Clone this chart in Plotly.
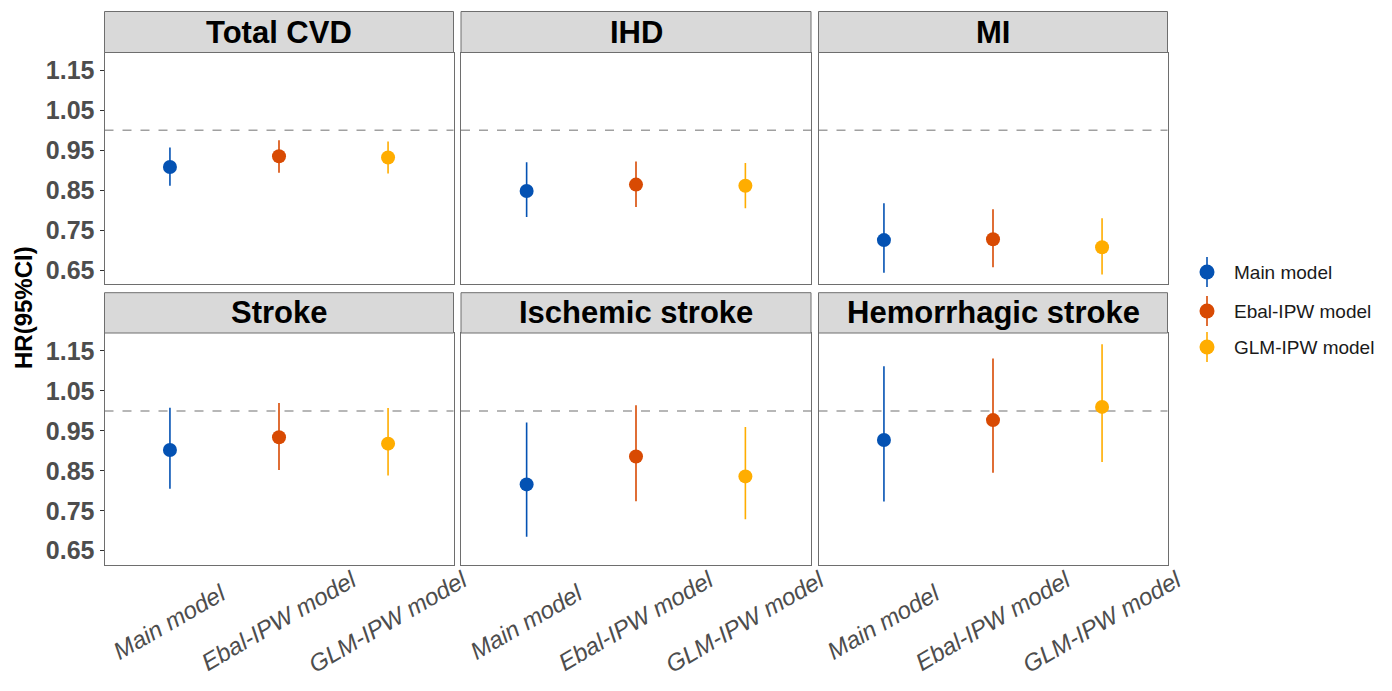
import plotly.graph_objects as go

# page body adds an 8px margin; figure is sized to fit inside the window
OFF = 8
W, H = 1392 - 2 * OFF, 691 - 2 * OFF

outcomes = ["Total CVD", "IHD", "MI", "Stroke", "Ischemic stroke", "Hemorrhagic stroke"]
models = ["Main model", "Ebal-IPW model", "GLM-IPW model"]
colors = ["#0452B3", "#D84A03", "#FFAD00"]

# HR point estimates per outcome (order: Main, Ebal-IPW, GLM-IPW)
hr = {
    "Total CVD":          [0.908, 0.935, 0.932],
    "IHD":                [0.848, 0.864, 0.861],
    "MI":                 [0.725, 0.727, 0.707],
    "Stroke":             [0.902, 0.934, 0.918],
    "Ischemic stroke":    [0.816, 0.886, 0.836],
    "Hemorrhagic stroke": [0.927, 0.977, 1.010],
}
lower = {
    "Total CVD":          [0.861, 0.894, 0.892],
    "IHD":                [0.783, 0.808, 0.805],
    "MI":                 [0.643, 0.657, 0.639],
    "Stroke":             [0.805, 0.852, 0.838],
    "Ischemic stroke":    [0.685, 0.774, 0.729],
    "Hemorrhagic stroke": [0.773, 0.845, 0.872],
}
upper = {
    "Total CVD":          [0.957, 0.975, 0.972],
    "IHD":                [0.920, 0.922, 0.918],
    "MI":                 [0.817, 0.802, 0.780],
    "Stroke":             [1.008, 1.020, 1.007],
    "Ischemic stroke":    [0.971, 1.014, 0.960],
    "Hemorrhagic stroke": [1.112, 1.131, 1.167],
}
y_ticks = [0.65, 0.75, 0.85, 0.95, 1.05, 1.15]
y_tick_labels = ["0.65", "0.75", "0.85", "0.95", "1.05", "1.15"]
ref_line = 1.0

# layout geometry in window pixels
col_px = [(104.5, 453.5), (461.0, 811.0), (818.5, 1167.5)]
row_plot_px = [(52.5, 284.0), (333.0, 564.7)]
row_strip_px = [(11.5, 52.5), (292.7, 333.0)]
xlabel_top_px = [576, 563, 563]

def px_x(p):
    return (p - OFF) / W

def px_y(p):
    return 1 - (p - OFF) / H

BORDER = "#6E6E6E"
FONT = "Liberation Sans, Arial"
fig = go.Figure()
shapes = []
annotations = []

for i, outc in enumerate(outcomes):
    r, c = divmod(i, 3)
    n = i + 1
    xa = "x" if n == 1 else f"x{n}"
    ya = "y" if n == 1 else f"y{n}"
    for j, m in enumerate(models):
        v = hr[outc][j]
        fig.add_trace(go.Scatter(
            x=[j + 1], y=[v], xaxis=xa, yaxis=ya, mode="markers",
            marker=dict(color=colors[j], size=14, line=dict(width=0)),
            error_y=dict(type="data", symmetric=False,
                         array=[upper[outc][j] - v], arrayminus=[v - lower[outc][j]],
                         color=colors[j], thickness=1.6, width=0),
            showlegend=False, name=m, hoverinfo="skip"))
    x0, x1 = col_px[c]
    yt, yb = row_plot_px[r]
    axkey = "xaxis" if n == 1 else f"xaxis{n}"
    aykey = "yaxis" if n == 1 else f"yaxis{n}"
    fig.layout[axkey] = dict(domain=[px_x(x0), px_x(x1)], range=[0.4, 3.6],
                             anchor=ya, showgrid=False, zeroline=False,
                             showline=True, mirror=True, linecolor=BORDER, linewidth=1,
                             showticklabels=False, ticks="", fixedrange=True)
    fig.layout[aykey] = dict(domain=[px_y(yb), px_y(yt)], range=[0.615, 1.195],
                             anchor=xa, showgrid=False, zeroline=False,
                             showline=True, mirror=True, linecolor=BORDER, linewidth=1,
                             tickvals=y_ticks, ticktext=y_tick_labels,
                             showticklabels=(c == 0), ticks="outside" if c == 0 else "",
                             ticklen=4, tickcolor="#333333", tickwidth=1,
                             tickfont=dict(family=FONT, size=25, color="#4D4D4D", weight="bold"),
                             fixedrange=True)
    # reference line
    shapes.append(dict(type="line", xref=f"{xa} domain", yref=ya, x0=0, x1=1,
                       y0=ref_line, y1=ref_line,
                       line=dict(color="#A0A0A0", width=1.5, dash="dash"), layer="below"))
    # strip
    st, sb = row_strip_px[r]
    shapes.append(dict(type="rect", xref="paper", yref="paper",
                       x0=px_x(x0), x1=px_x(x1), y0=px_y(sb), y1=px_y(st),
                       fillcolor="#D9D9D9", line=dict(color=BORDER, width=1)))
    annotations.append(dict(text=f"<b>{outc}</b>", xref="paper", yref="paper",
                            x=px_x((x0 + x1) / 2), y=px_y((st + sb) / 2),
                            xanchor="center", yanchor="middle", showarrow=False,
                            font=dict(family=FONT, size=31, color="#000000")))
    # x labels in bottom row
    if r == 1:
        for j, m in enumerate(models):
            annotations.append(dict(text=f"<i>{m}</i>", xref=xa, yref="paper",
                                    x=j + 1, y=px_y(xlabel_top_px[j]),
                                    xanchor="center", yanchor="top",
                                    textangle=-30, showarrow=False,
                                    font=dict(family=FONT, size=24, color="#4D4D4D")))

# y-axis title
annotations.append(dict(text="<b>HR(95%CI)</b>", xref="paper", yref="paper",
                        x=px_x(23), y=px_y(308), xanchor="center", yanchor="middle",
                        textangle=-90, showarrow=False,
                        font=dict(family=FONT, size=24, color="#000000")))

# legend (manual, pointrange glyph)
leg_y = [272, 311, 347]
for j, m in enumerate(models):
    cy = leg_y[j]
    shapes.append(dict(type="line", xref="paper", yref="paper",
                       x0=px_x(1207), x1=px_x(1207), y0=px_y(cy - 15), y1=px_y(cy + 15),
                       line=dict(color=colors[j], width=1.6)))
    shapes.append(dict(type="circle", xref="paper", yref="paper",
                       xsizemode="pixel", ysizemode="pixel",
                       xanchor=px_x(1207), yanchor=px_y(cy),
                       x0=-7.5, x1=7.5, y0=-7.5, y1=7.5,
                       fillcolor=colors[j], line=dict(width=0)))
    annotations.append(dict(text=m, xref="paper", yref="paper",
                            x=px_x(1232), y=px_y(cy), xanchor="left", yanchor="middle",
                            showarrow=False,
                            font=dict(family=FONT, size=19, color="#1A1A1A")))

fig.update_layout(width=W, height=H, margin=dict(l=0, r=0, t=0, b=0),
                  paper_bgcolor="white", plot_bgcolor="white",
                  shapes=shapes, annotations=annotations, showlegend=False)

fig.write_html("out.html")
